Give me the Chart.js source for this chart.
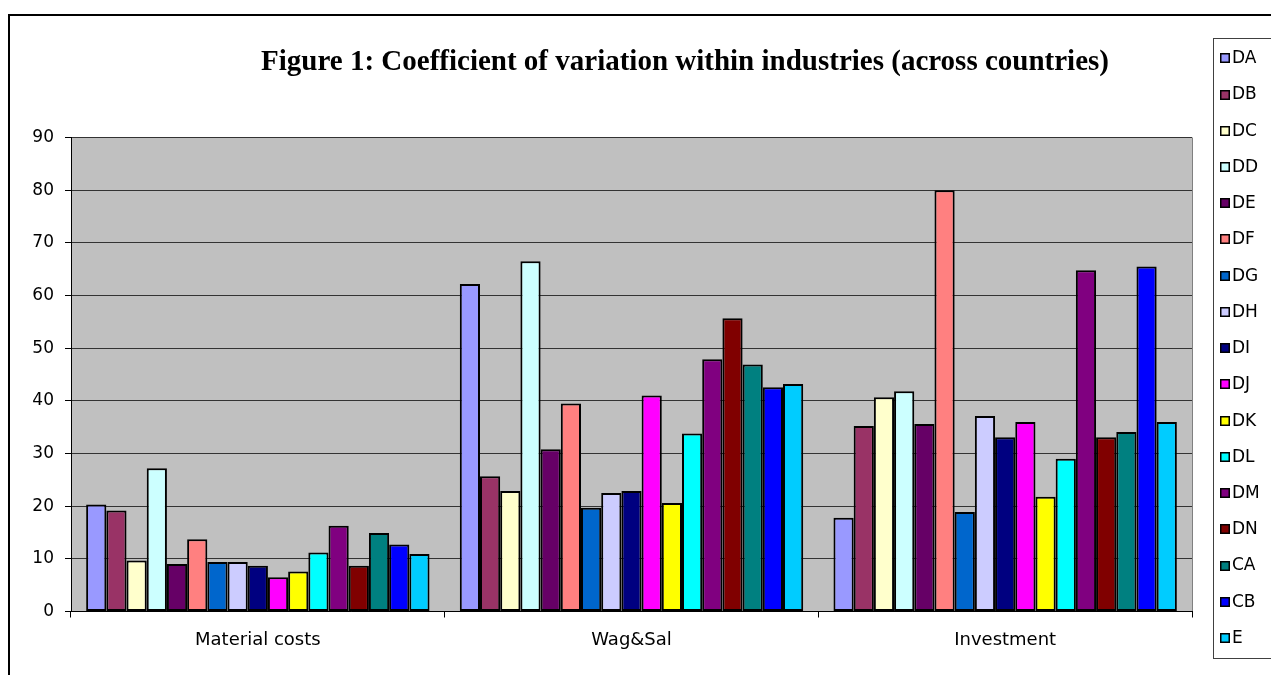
<!DOCTYPE html>
<html>
<head>
<meta charset="utf-8">
<script src="https://cdn.jsdelivr.net/npm/chart.js@4/dist/chart.umd.min.js"></script>
<style>
  html, body { margin: 0; padding: 0; background: #ffffff; overflow: hidden; }
  #wrap { position: relative; width: 1271px; height: 675px; }
  canvas { display: block; }
</style>
</head>
<body>
<div id="wrap"><canvas id="c" width="1271" height="675"></canvas></div>
<script>
// ---- Data ----
const categories = ['Material costs', 'Wag&Sal', 'Investment'];
const seriesNames = ['DA','DB','DC','DD','DE','DF','DG','DH','DI','DJ','DK','DL','DM','DN','CA','CB','E'];
const seriesColors = ['#9999FF','#993366','#FFFFCC','#CCFFFF','#660066','#FF8080','#0066CC','#CCCCFF',
                      '#000080','#FF00FF','#FFFF00','#00FFFF','#800080','#800000','#008080','#0000FF','#00CCFF'];
const valuesDA = [20.3, 62.2, 17.8];
const valuesDB = [19.2, 25.7, 35.2];
const valuesDC = [9.7, 22.9, 40.7];
const valuesDD = [27.2, 66.5, 41.8];
const valuesDE = [9.0, 30.8, 35.6];
const valuesDF = [13.7, 39.5, 80.0];
const valuesDG = [9.4, 19.7, 18.9];
const valuesDH = [9.4, 22.5, 37.1];
const valuesDI = [8.7, 22.9, 33.1];
const valuesDJ = [6.5, 41.0, 36.0];
const valuesDK = [7.6, 20.6, 21.8];
const valuesDL = [11.2, 33.8, 29.0];
const valuesDM = [16.3, 47.9, 64.8];
const valuesDN = [8.7, 55.7, 33.1];
const valuesCA = [14.9, 46.9, 34.1];
const valuesCB = [12.7, 42.6, 65.5];
const valuesE  = [10.9, 43.2, 36.0];
const yTicks = [0, 10, 20, 30, 40, 50, 60, 70, 80, 90];
const titleText = 'Figure 1: Coefficient of variation within industries (across countries)';

const seriesValues = [valuesDA, valuesDB, valuesDC, valuesDD, valuesDE, valuesDF, valuesDG, valuesDH,
                      valuesDI, valuesDJ, valuesDK, valuesDL, valuesDM, valuesDN, valuesCA, valuesCB, valuesE];

const datasets = seriesNames.map((name, i) => ({
  label: name,
  data: seriesValues[i],
  backgroundColor: seriesColors[i],
  borderColor: '#000000',
  borderWidth: 2,
  borderSkipped: false,
  categoryPercentage: 0.919,
  barPercentage: 1.0
}));

Chart.defaults.font.family = '"DejaVu Sans", "Liberation Sans", Arial, sans-serif';
Chart.defaults.color = '#000000';

const decorPlugin = {
  id: 'decor',
  beforeDraw(chart) {
    const ctx = chart.ctx;
    const a = chart.chartArea;
    ctx.save();
    ctx.fillStyle = '#ffffff';
    ctx.fillRect(0, 0, chart.width, chart.height);
    // plot area background
    ctx.fillStyle = '#C0C0C0';
    ctx.fillRect(a.left, a.top, a.right - a.left, a.bottom - a.top);
    // plot area right border
    ctx.strokeStyle = '#808080';
    ctx.lineWidth = 1;
    ctx.beginPath();
    ctx.moveTo(a.right + 0.5, a.top);
    ctx.lineTo(a.right + 0.5, a.bottom);
    ctx.stroke();
    ctx.restore();
  },
  afterDraw(chart) {
    const ctx = chart.ctx;
    ctx.save();
    // outer chart border
    ctx.strokeStyle = '#000000';
    ctx.lineWidth = 2;
    ctx.strokeRect(9, 15, 1400, 800);
    // title
    ctx.fillStyle = '#000000';
    ctx.font = 'bold 29px "Liberation Serif", "Times New Roman", serif';
    ctx.textAlign = 'center';
    ctx.textBaseline = 'alphabetic';
    ctx.fillText(titleText, 685, 69.5);
    // legend box
    ctx.strokeStyle = '#404040';
    ctx.lineWidth = 1;
    ctx.strokeRect(1213.5, 38.5, 200, 620);
    // legend entries
    ctx.font = '17px "DejaVu Sans", "Liberation Sans", Arial, sans-serif';
    ctx.textAlign = 'left';
    ctx.textBaseline = 'middle';
    chart.data.datasets.forEach((ds, i) => {
      const cy = 58.3 + i * 36.23;
      const top = Math.round(cy - 5);
      ctx.fillStyle = ds.backgroundColor;
      ctx.fillRect(1220, top, 10, 10);
      ctx.strokeStyle = '#000000';
      ctx.lineWidth = 1.5;
      ctx.strokeRect(1220.75, top + 0.75, 8.5, 8.5);
      ctx.fillStyle = '#000000';
      ctx.fillText(ds.label, 1232, cy + 0.5);
    });
    ctx.restore();
  }
};

new Chart(document.getElementById('c'), {
  type: 'bar',
  data: { labels: categories, datasets: datasets },
  options: {
    responsive: false,
    animation: false,
    devicePixelRatio: 1,
    layout: { padding: { left: 0, right: 79, top: 137.5, bottom: 0 } },
    plugins: {
      legend: { display: false },
      title: { display: false },
      tooltip: { enabled: false }
    },
    scales: {
      x: {
        offset: true,
        afterFit(scale) { scale.height = 63.5; },
        grid: {
          display: true,
          drawOnChartArea: false,
          drawTicks: true,
          tickLength: 6,
          color: '#000000',
          tickColor: '#000000',
          offset: true
        },
        border: { display: true, color: '#000000', width: 1 },
        ticks: {
          font: { size: 18 },
          color: '#000000',
          padding: 12,
          maxRotation: 0
        }
      },
      y: {
        min: 0,
        max: 90,
        afterFit(scale) { scale.width = 71; },
        afterBuildTicks(scale) { scale.ticks = yTicks.map(v => ({ value: v })); },
        grid: {
          display: true,
          drawOnChartArea: true,
          drawTicks: true,
          tickLength: 6,
          color: '#333333',
          tickColor: '#000000',
          lineWidth: 1
        },
        border: { display: true, color: '#000000', width: 1 },
        ticks: {
          font: { size: 17 },
          color: '#000000',
          padding: 11
        }
      }
    }
  },
  plugins: [decorPlugin]
});
</script>
</body>
</html>
